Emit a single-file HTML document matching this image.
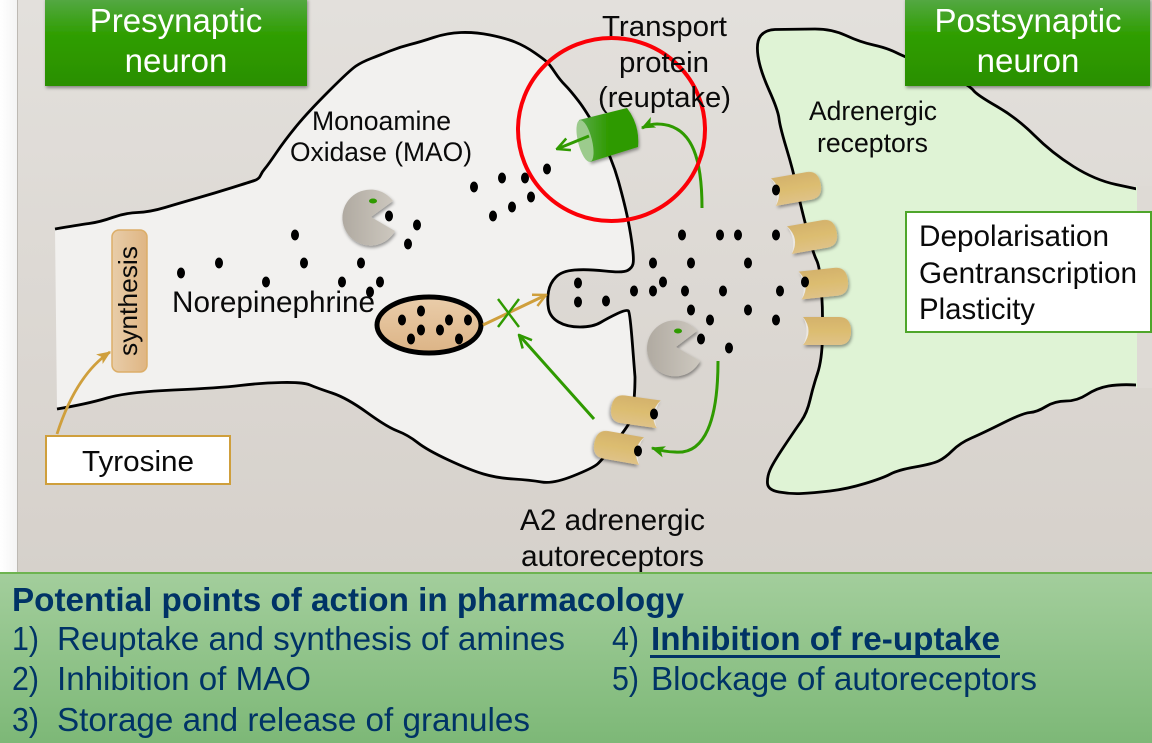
<!DOCTYPE html>
<html><head><meta charset="utf-8"><style>
html,body{margin:0;padding:0;width:1152px;height:743px;overflow:hidden;background:#fff}
svg{display:block}
text{font-family:"Liberation Sans",sans-serif;fill:#0a0a0a}
.b text{fill:#003366;font-size:33px}
</style></head><body>
<svg width="1152" height="743" viewBox="0 0 1152 743" xmlns="http://www.w3.org/2000/svg">
<defs>
<linearGradient id="bg" x1="0" y1="0" x2="0" y2="1"><stop offset="0" stop-color="#e3e0dc"/><stop offset="1" stop-color="#d6d1cb"/></linearGradient>
<linearGradient id="lm" x1="0" y1="0" x2="1" y2="0"><stop offset="0" stop-color="#fff"/><stop offset="1" stop-color="#f4f4f4"/></linearGradient>
<linearGradient id="gb" x1="0" y1="0" x2="0" y2="1"><stop offset="0" stop-color="#55a846"/><stop offset=".42" stop-color="#2f9e00"/><stop offset="1" stop-color="#2b8f02"/></linearGradient>
<linearGradient id="pn" x1="0" y1="0" x2="0" y2="1"><stop offset="0" stop-color="#a3ce9c"/><stop offset="1" stop-color="#7db877"/></linearGradient>
<linearGradient id="tan" x1="0" y1="0" x2="0" y2="1"><stop offset="0" stop-color="#d4b26c"/><stop offset=".5" stop-color="#dcbd70"/><stop offset="1" stop-color="#dfc288"/></linearGradient>
<linearGradient id="syn" x1="0" y1="0" x2="1" y2="0"><stop offset="0" stop-color="#e8cda9"/><stop offset="1" stop-color="#dfb583"/></linearGradient>
<linearGradient id="ves" x1="0" y1="0" x2="0" y2="1"><stop offset="0" stop-color="#eacdaa"/><stop offset="1" stop-color="#dcb486"/></linearGradient>
<linearGradient id="pac" x1="0" y1="0" x2="1" y2="0"><stop offset="0" stop-color="#b0aaa1"/><stop offset="1" stop-color="#cdc8bf"/></linearGradient>
<linearGradient id="cyl" x1="0" y1="0" x2="1" y2="0"><stop offset="0" stop-color="#5aab4a"/><stop offset=".5" stop-color="#2f9a00"/><stop offset="1" stop-color="#2f9a00"/></linearGradient>
<filter id="sh" x="-20%" y="-20%" width="140%" height="140%"><feDropShadow dx="1" dy="2" stdDeviation="1.5" flood-color="#000" flood-opacity=".4"/></filter>
<g id="rc"><path d="M-24,-14 L12,-14 Q24,-14 24,0 Q24,14 12,14 L-24,14 Q-13,0 -24,-14 Z" fill="url(#tan)" filter="url(#sh)"/><path d="M-24,-14 Q-13,0 -24,14 Q-17,0 -24,-14 Z" fill="#ece8e2"/></g>
<marker id="og" viewBox="0 0 12 12" refX="11" refY="6" markerWidth="15" markerHeight="15" markerUnits="userSpaceOnUse" orient="auto"><path d="M1,1 L11,6 L1,11" fill="none" stroke="#2f9a00" stroke-width="2"/></marker>
<marker id="oo" viewBox="0 0 12 12" refX="11" refY="6" markerWidth="15" markerHeight="15" markerUnits="userSpaceOnUse" orient="auto"><path d="M1,1 L11,6 L1,11" fill="none" stroke="#cf9f3c" stroke-width="2"/></marker>
<marker id="fg" viewBox="0 0 12 12" refX="11" refY="6" markerWidth="14" markerHeight="14" markerUnits="userSpaceOnUse" orient="auto"><path d="M0,1 L12,6 L0,11 L3,6 Z" fill="#2f9a00"/></marker>
<marker id="fo" viewBox="0 0 12 12" refX="11" refY="6" markerWidth="14" markerHeight="14" markerUnits="userSpaceOnUse" orient="auto"><path d="M0,1 L12,6 L0,11 L3,6 Z" fill="#cf9f3c"/></marker>
</defs>

<rect width="17" height="573" fill="url(#lm)"/>
<rect x="17" width="1135" height="573" fill="url(#bg)"/>
<rect x="17" width="1" height="573" fill="#bdb9b3"/>

<!-- Presynaptic -->
<path d="M55,229 Q78,225 89,223.5 Q100,222 112.5,217.5 Q125,213 137.5,212.5 Q150,212 165,207.5 Q180,203 197.5,198 Q215,193 232.5,187.5 Q250,182 254.5,180.5 Q259,179 260.5,175.5 Q262,172 265,168.5 Q268,165 276.5,152.5 Q285,140 296.5,126 Q308,112 329,91 Q350,70 356,66 Q362,62 371,58.5 Q380,55 390,51 Q400,47 410,44.5 Q420,42 433.5,37.5 Q447,33 461,32.5 Q475,32 490,35 Q505,38 515,42 Q525,46 535,53 Q545,60 547.5,62.5 Q550,65 555,72.5 Q560,80 565,85 Q570,90 578.5,101 Q587,112 599.5,135 Q612,158 618.5,181.5 Q625,205 628,220 Q631,235 632.5,247.5 Q634,260 633,264 Q632,268 627.5,270.5 Q623,273 605,271 Q587,269 574.5,270 Q562,271 556,277 Q550,283 548.5,291.5 Q547,300 548.5,308.5 Q550,317 558.5,322 Q567,327 580,327 Q593,327 600.5,322.5 Q608,318 617.5,313.5 Q627,309 628.5,311 Q630,313 632.5,345 L635,377 Q635,395 633,407.5 Q631,420 628,425 Q625,430 613.5,445 Q602,460 597.5,464 Q593,468 573,476 Q553,484 541.5,482 Q530,480 513.5,479 Q497,478 483.5,474 Q470,470 448.5,460 Q427,450 417.5,442.5 Q408,435 397.5,431 Q387,427 367,412.5 Q347,398 332,393 Q317,388 310,385 Q303,382 281.5,382.5 Q260,383 240,385.5 Q220,388 173.5,390 Q127,392 107,398 Q87,404 57,409" fill="#f2f1ef" stroke="#000" stroke-width="2.8" stroke-linejoin="round"/>

<!-- Postsynaptic -->
<path d="M1137,189 L1116,184.5 Q1095,180 1073.5,166.5 Q1052,153 1034.5,135.5 Q1017,118 997,106.5 Q977,95 973.5,90.5 Q970,86 955,78 Q940,70 922.5,63.5 Q905,57 896,52.5 Q887,48 873.5,45 Q860,42 846,35.5 Q832,29 815,29 L775,29.5 Q765,30 760.5,36 Q756,42 758,56 Q760,70 769,90 Q778,110 779,118.5 Q780,127 786.5,148.5 Q793,170 796.5,186.5 Q800,203 806.5,228 Q813,253 816.5,260 Q820,267 821.5,290 Q823,313 822.5,336.5 Q822,360 817.5,373.5 Q813,387 810,400 Q807,413 801,421.5 Q795,430 784,446.5 Q773,463 770,470 Q767,477 767.5,483.5 Q768,490 779,492 Q790,494 801.5,493.5 Q813,493 830,491 Q847,489 865,483.5 Q883,478 890.5,474 Q898,470 915,467 Q932,464 938.5,461 Q945,458 952.5,450.5 Q960,443 971.5,438 Q983,433 1003,423 Q1023,413 1030,412.5 Q1037,412 1046,406.5 Q1055,401 1066,401 Q1077,401 1087,394.5 Q1097,388 1108.5,386 Q1120,384 1137,385" fill="#dff3d5" stroke="#000" stroke-width="2.8" stroke-linejoin="round"/>
<rect x="1136" y="186" width="3" height="202" fill="#dff3d5"/>
<rect x="1137" y="186" width="15" height="202" fill="#dedad5"/>

<!-- Green header boxes -->
<rect x="45" y="-2" width="262" height="88" fill="url(#gb)" filter="url(#sh)"/>
<rect x="905" y="-2" width="245" height="88" fill="url(#gb)" filter="url(#sh)"/>
<g text-anchor="middle" style="font-size:33px">
<text x="176" y="32" style="fill:#fff">Presynaptic</text>
<text x="176" y="72" style="fill:#fff">neuron</text>
<text x="1028" y="32" style="fill:#fff">Postsynaptic</text>
<text x="1028" y="72" style="fill:#fff">neuron</text>
</g>

<!-- Synthesis box -->
<rect x="112" y="230" width="35" height="142" rx="7" fill="url(#syn)" stroke="#dcae68" stroke-width="1.5"/>
<text transform="translate(137,356) rotate(-90)" font-size="26" textLength="110" lengthAdjust="spacingAndGlyphs">synthesis</text>

<!-- Tyrosine -->
<path d="M57,434 Q76,375 110,352" fill="none" stroke="#cf9f3c" stroke-width="2.8" marker-end="url(#fo)"/>
<rect x="46" y="436" width="184" height="48" fill="#fff" stroke="#cf9f3c" stroke-width="2"/>
<text x="82" y="471" font-size="29" textLength="112" lengthAdjust="spacingAndGlyphs">Tyrosine</text>

<!-- Pacmen -->
<path d="M371,217 L393,201 A28,28 0 1 0 395,231 Z" fill="url(#pac)" filter="url(#sh)"/>
<ellipse cx="373" cy="201" rx="4" ry="2.5" fill="#2f9a00"/>
<path d="M676,347 L697,331 A28,28 0 1 0 700,361 Z" fill="url(#pac)" filter="url(#sh)"/>
<ellipse cx="678" cy="331" rx="4" ry="2.5" fill="#2f9a00"/>

<!-- Vesicle -->
<ellipse cx="429" cy="325" rx="52" ry="28" fill="url(#ves)" stroke="#000" stroke-width="5"/>

<!-- Receptors -->
<use href="#rc" transform="translate(797,188) rotate(-10)"/>
<use href="#rc" transform="translate(813,236) rotate(-10)"/>
<use href="#rc" transform="translate(824,283) rotate(-6)"/>
<use href="#rc" transform="translate(827,331)"/>
<use href="#rc" transform="translate(635,411) rotate(8) scale(-1,1)"/>
<use href="#rc" transform="translate(618,447) rotate(10) scale(-1,1)"/>

<!-- Dots -->
<g fill="#000">
<ellipse cx="181" cy="273" rx="4" ry="5.5"/><ellipse cx="219" cy="263" rx="4" ry="5.5"/><ellipse cx="266" cy="282" rx="4" ry="5.5"/><ellipse cx="295" cy="235" rx="4" ry="5.5"/><ellipse cx="304" cy="263" rx="4" ry="5.5"/><ellipse cx="342" cy="282" rx="4" ry="5.5"/><ellipse cx="361" cy="263" rx="4" ry="5.5"/><ellipse cx="380" cy="282" rx="4" ry="5.5"/><ellipse cx="370" cy="292" rx="4" ry="5.5"/>
<ellipse cx="389" cy="216" rx="4" ry="5.5"/><ellipse cx="417" cy="225" rx="4" ry="5.5"/><ellipse cx="408" cy="244" rx="4" ry="5.5"/>
<ellipse cx="474" cy="187" rx="4" ry="5.5"/><ellipse cx="502" cy="178" rx="4" ry="5.5"/><ellipse cx="525" cy="178" rx="4" ry="5.5"/><ellipse cx="547" cy="169" rx="4" ry="5.5"/><ellipse cx="531" cy="197" rx="4" ry="5.5"/><ellipse cx="512" cy="207" rx="4" ry="5.5"/><ellipse cx="493" cy="216" rx="4" ry="5.5"/>
<ellipse cx="682" cy="235" rx="4" ry="5.5"/><ellipse cx="720" cy="235" rx="4" ry="5.5"/><ellipse cx="738" cy="235" rx="4" ry="5.5"/><ellipse cx="776" cy="235" rx="4" ry="5.5"/><ellipse cx="776" cy="190" rx="4" ry="5.5"/>
<ellipse cx="653" cy="263" rx="4" ry="5.5"/><ellipse cx="691" cy="263" rx="4" ry="5.5"/><ellipse cx="748" cy="263" rx="4" ry="5.5"/><ellipse cx="663" cy="282" rx="4" ry="5.5"/><ellipse cx="634" cy="291" rx="4" ry="5.5"/><ellipse cx="653" cy="291" rx="4" ry="5.5"/><ellipse cx="685" cy="291" rx="4" ry="5.5"/><ellipse cx="723" cy="291" rx="4" ry="5.5"/><ellipse cx="780" cy="291" rx="4" ry="5.5"/><ellipse cx="805" cy="282" rx="4" ry="5.5"/>
<ellipse cx="691" cy="310" rx="4" ry="5.5"/><ellipse cx="710" cy="320" rx="4" ry="5.5"/><ellipse cx="748" cy="310" rx="4" ry="5.5"/><ellipse cx="776" cy="320" rx="4" ry="5.5"/><ellipse cx="701" cy="339" rx="4" ry="5.5"/><ellipse cx="729" cy="348" rx="4" ry="5.5"/>
<ellipse cx="578" cy="283" rx="4" ry="5.5"/><ellipse cx="578" cy="302" rx="4" ry="5.5"/><ellipse cx="606" cy="301" rx="4" ry="5.5"/>
<ellipse cx="421" cy="311" rx="4" ry="5.5"/><ellipse cx="402" cy="320" rx="4" ry="5.5"/><ellipse cx="449" cy="320" rx="4" ry="5.5"/><ellipse cx="468" cy="320" rx="4" ry="5.5"/><ellipse cx="421" cy="330" rx="4" ry="5.5"/><ellipse cx="440" cy="330" rx="4" ry="5.5"/><ellipse cx="411" cy="339" rx="4" ry="5.5"/><ellipse cx="459" cy="339" rx="4" ry="5.5"/>
<ellipse cx="654" cy="414" rx="4" ry="5.5"/><ellipse cx="638" cy="451" rx="4" ry="5.5"/>
</g>

<!-- Connectors -->
<line x1="483" y1="325" x2="546" y2="295" stroke="#cf9f3c" stroke-width="3" marker-end="url(#oo)"/>
<line x1="498" y1="299" x2="519" y2="327" stroke="#2f9a00" stroke-width="2.4"/>
<line x1="519" y1="299" x2="498" y2="327" stroke="#2f9a00" stroke-width="2.4"/>
<line x1="594" y1="419" x2="519" y2="335" stroke="#2f9a00" stroke-width="3" marker-end="url(#og)"/>
<path d="M718,361 C718,420 705,455 675,452 Q665,452 652,448" fill="none" stroke="#2f9a00" stroke-width="3" marker-end="url(#fg)"/>

<!-- Transporter -->
<path d="M579,120 L627,108 Q640,125 638,147 L590,162 Z" fill="url(#cyl)" filter="url(#sh)"/>
<ellipse cx="585" cy="141" rx="7" ry="21.5" transform="rotate(-14 585 141)" fill="#9ccb8d"/>
<line x1="589" y1="136" x2="557" y2="149" stroke="#2f9a00" stroke-width="3" marker-end="url(#og)"/>
<path d="M702,208 C702,165 695,124 657,124 Q650,124 642,128" fill="none" stroke="#2f9a00" stroke-width="3" marker-end="url(#fg)"/>

<!-- Red circle -->
<ellipse cx="611.5" cy="129.5" rx="93.5" ry="91.5" fill="none" stroke="#fb0007" stroke-width="4"/>

<!-- Labels -->
<text x="312" y="130" font-size="27" textLength="139" lengthAdjust="spacingAndGlyphs">Monoamine</text>
<text x="290" y="161" font-size="27" textLength="182" lengthAdjust="spacingAndGlyphs">Oxidase (MAO)</text>
<text x="172" y="312" font-size="30" textLength="203" lengthAdjust="spacingAndGlyphs">Norepinephrine</text>
<text x="602" y="36" font-size="29" textLength="125" lengthAdjust="spacingAndGlyphs">Transport</text>
<text x="619" y="72" font-size="29" textLength="90" lengthAdjust="spacingAndGlyphs">protein</text>
<text x="598" y="107" font-size="29" textLength="133" lengthAdjust="spacingAndGlyphs">(reuptake)</text>
<text x="809" y="120" font-size="27" textLength="128" lengthAdjust="spacingAndGlyphs">Adrenergic</text>
<text x="817" y="152" font-size="27" textLength="111" lengthAdjust="spacingAndGlyphs">receptors</text>
<text x="520" y="530" font-size="30" textLength="185" lengthAdjust="spacingAndGlyphs">A2 adrenergic</text>
<text x="521" y="566" font-size="30" textLength="183" lengthAdjust="spacingAndGlyphs">autoreceptors</text>

<!-- Effects box -->
<rect x="906" y="212" width="245" height="120" fill="#fff" stroke="#4fa62b" stroke-width="2"/>
<text x="919" y="246" font-size="30" textLength="190" lengthAdjust="spacingAndGlyphs">Depolarisation</text>
<text x="919" y="283" font-size="30" textLength="218" lengthAdjust="spacingAndGlyphs">Gentranscription</text>
<text x="919" y="319" font-size="30" textLength="116" lengthAdjust="spacingAndGlyphs">Plasticity</text>

<!-- Bottom panel -->
<rect x="0" y="572" width="1152" height="171" fill="url(#pn)"/>
<rect x="0" y="572" width="1152" height="2" fill="#6db350"/>
<g class="b">
<text x="12" y="611" font-weight="bold" textLength="672" lengthAdjust="spacingAndGlyphs">Potential points of action in pharmacology</text>
<text x="12" y="650" textLength="27" lengthAdjust="spacingAndGlyphs">1)</text>
<text x="57" y="650" textLength="508" lengthAdjust="spacingAndGlyphs">Reuptake and synthesis of amines</text>
<text x="12" y="690" textLength="27" lengthAdjust="spacingAndGlyphs">2)</text>
<text x="57" y="690" textLength="254" lengthAdjust="spacingAndGlyphs">Inhibition of MAO</text>
<text x="12" y="731" textLength="27" lengthAdjust="spacingAndGlyphs">3)</text>
<text x="57" y="731" textLength="473" lengthAdjust="spacingAndGlyphs">Storage and release of granules</text>
<text x="612" y="650" textLength="27" lengthAdjust="spacingAndGlyphs">4)</text>
<text x="651" y="650" font-weight="bold" textLength="349" lengthAdjust="spacingAndGlyphs">Inhibition of re-uptake</text>
<text x="612" y="690" textLength="27" lengthAdjust="spacingAndGlyphs">5)</text>
<text x="651" y="690" textLength="386" lengthAdjust="spacingAndGlyphs">Blockage of autoreceptors</text>
</g>
<rect x="650" y="655" width="350" height="3" fill="#003366"/>
</svg>
</body></html>
